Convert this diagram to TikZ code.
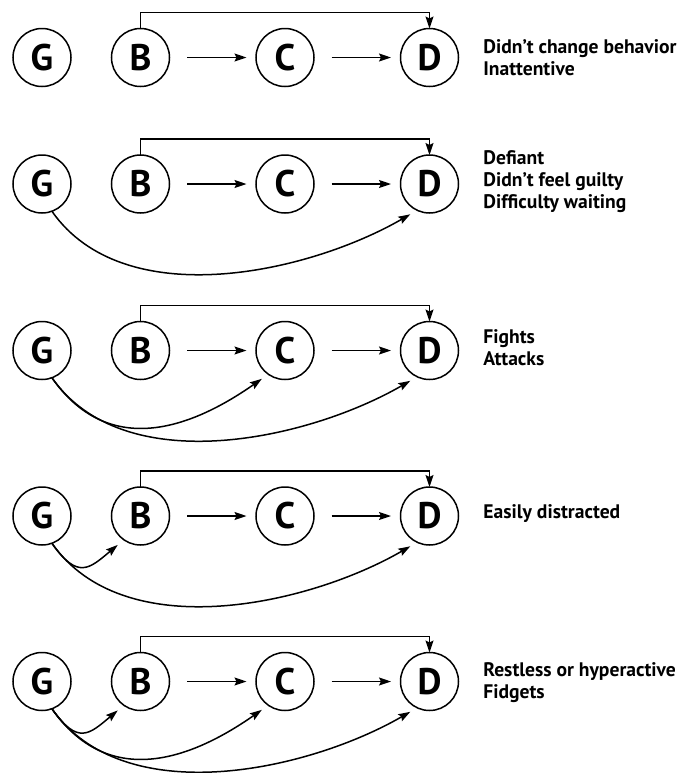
\documentclass[tikz,border=0pt]{standalone}
\usepackage{fontspec}
\setsansfont{PT Sans}
\usepackage{tkz-graph}
\usetikzlibrary{arrows.meta}

\begin{document}
\begin{tikzpicture}[x = 0.5pt, y = -0.5pt, font=\sffamily\bfseries]
	\useasboundingbox (0, 0) rectangle (691, 773);
	\tikzstyle{VertexStyle} = []
	\tikzstyle{EdgeStyle} = []
	\tikzstyle{factorStyle}=[shape = circle, minimum size = 29pt, inner sep = 0pt, line width = 0.75pt, draw, font = \sffamily\bfseries\fontsize{18.5}{18.5}\selectfont]
	\tikzstyle{arrowStyle}=[line width = 0.75pt, -{Stealth[length = 6pt, width = 4pt, inset = 1pt]}]
	\tikzstyle{straightStyle}=[arrowStyle, shorten <= 8.75pt, shorten >= 4.75pt]
	\tikzstyle{toDStyle}=[arrowStyle, out = -55, in = -150, looseness = 0.88, shorten >= 4pt]
	\tikzstyle{toCStyle}=[arrowStyle, out = -55, in = -145, looseness = 1.15, shorten >= 4pt]
	\tikzstyle{toBStyle}=[arrowStyle, out = -55, in = -140, looseness = 1.6, shorten >= 4pt]
	\tikzstyle{answerStyle}=[anchor = west, align = left, inner sep = 0pt, font = \sffamily\bfseries\fontsize{9.8}{11}\selectfont]
	% row 1
	\Vertex[style = factorStyle, x = 42, y = 57.5, L = G]{G1}
	\Vertex[style = factorStyle, x = 140.5, y = 57.5, L = B]{B1}
	\Vertex[style = factorStyle, x = 285, y = 57.5, L = C]{C1}
	\Vertex[style = factorStyle, x = 429.5, y = 57.5, L = D]{D1}
	\Edge[style = straightStyle](B1)(C1)
	\Edge[style = straightStyle](C1)(D1)
	\draw[arrowStyle] (B1.north) -- ++(0, -16) -| (D1.north);
	\node[answerStyle] (a1) at (483, 58) {Didn’t change behavior\\Inattentive};
	% row 2
	\Vertex[style = factorStyle, x = 42, y = 184, L = G]{G2}
	\Vertex[style = factorStyle, x = 140.5, y = 184, L = B]{B2}
	\Vertex[style = factorStyle, x = 285, y = 184, L = C]{C2}
	\Vertex[style = factorStyle, x = 429.5, y = 184, L = D]{D2}
	\Edge[style = straightStyle](B2)(C2)
	\Edge[style = straightStyle](C2)(D2)
	\draw[arrowStyle] (B2.north) -- ++(0, -16) -| (D2.north);
	\Edge[style = toDStyle](G2.-70)(D2.-115)
	\node[answerStyle] (a2) at (483, 182) {Defiant\\Didn’t feel guilty\\Difficulty waiting};
	% row 3
	\Vertex[style = factorStyle, x = 42, y = 350.5, L = G]{G3}
	\Vertex[style = factorStyle, x = 140.5, y = 350.5, L = B]{B3}
	\Vertex[style = factorStyle, x = 285, y = 350.5, L = C]{C3}
	\Vertex[style = factorStyle, x = 429.5, y = 350.5, L = D]{D3}
	\Edge[style = straightStyle](B3)(C3)
	\Edge[style = straightStyle](C3)(D3)
	\draw[arrowStyle] (B3.north) -- ++(0, -16) -| (D3.north);
	\Edge[style = toCStyle](G3.-70)(C3.-125)
	\Edge[style = toDStyle](G3.-70)(D3.-115)
	\node[answerStyle] (a3) at (483, 348) {Fights\\Attacks};
	% row 4
	\Vertex[style = factorStyle, x = 42, y = 516, L = G]{G4}
	\Vertex[style = factorStyle, x = 140.5, y = 516, L = B]{B4}
	\Vertex[style = factorStyle, x = 285, y = 516, L = C]{C4}
	\Vertex[style = factorStyle, x = 429.5, y = 516, L = D]{D4}
	\Edge[style = straightStyle](B4)(C4)
	\Edge[style = straightStyle](C4)(D4)
	\draw[arrowStyle] (B4.north) -- ++(0, -16) -| (D4.north);
	\Edge[style = toBStyle](G4.-70)(B4.-125)
	\Edge[style = toDStyle](G4.-70)(D4.-115)
	\node[answerStyle] (a4) at (483, 514) {Easily distracted};
	% row 5
	\Vertex[style = factorStyle, x = 42, y = 681.5, L = G]{G5}
	\Vertex[style = factorStyle, x = 140.5, y = 681.5, L = B]{B5}
	\Vertex[style = factorStyle, x = 285, y = 681.5, L = C]{C5}
	\Vertex[style = factorStyle, x = 429.5, y = 681.5, L = D]{D5}
	\Edge[style = straightStyle](B5)(C5)
	\Edge[style = straightStyle](C5)(D5)
	\draw[arrowStyle] (B5.north) -- ++(0, -16) -| (D5.north);
	\Edge[style = toBStyle](G5.-70)(B5.-125)
	\Edge[style = toCStyle](G5.-70)(C5.-125)
	\Edge[style = toDStyle](G5.-70)(D5.-115)
	\node[answerStyle] (a5) at (483, 683) {Restless or hyperactive\\Fidgets};
\end{tikzpicture}
\end{document}
